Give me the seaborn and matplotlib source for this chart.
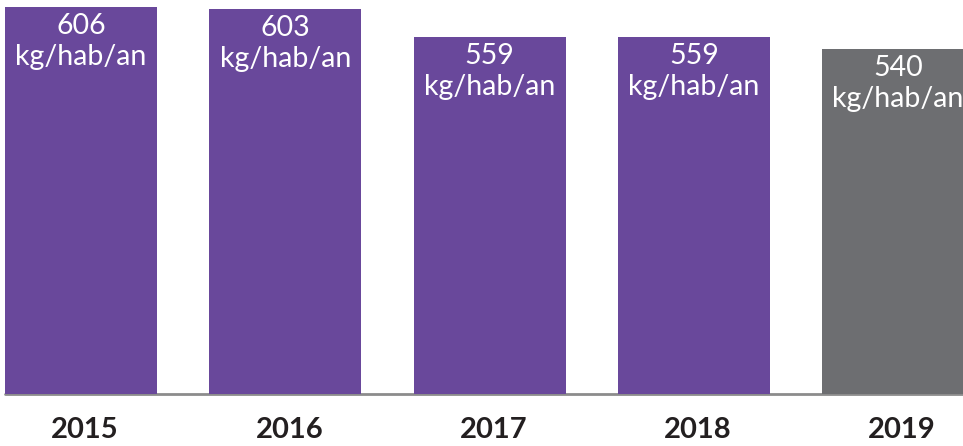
import matplotlib
matplotlib.use("Agg")
import matplotlib.pyplot as plt
import seaborn as sns
import pandas as pd

years = ["2015", "2016", "2017", "2018", "2019"]
values = [606, 603, 559, 559, 540]
unit = "kg/hab/an"
colors = ["#69489b", "#69489b", "#69489b", "#69489b", "#6d6e71"]

sns.set_style("white")
plt.rcParams["font.family"] = ["Lato", "DejaVu Sans"]

df = pd.DataFrame({"year": years, "value": values})

fig = plt.figure(figsize=(9.63, 4.46), dpi=100)
ax = fig.add_axes([0, 0, 1, 1])

ax.axhline(0, xmin=(-0.372 + 0.397) / (4.318 + 0.397), color="#8c8c8c", lw=2, zorder=0)
sns.barplot(data=df, x="year", y="value", hue="year", palette=colors,
            legend=False, width=0.744, saturation=1, linewidth=0, ax=ax, zorder=2)

ax.set_xlim(-0.397, 4.318)
ax.set_ylim(-81.6, 617.0)
ax.axis("off")

for i, (y, v) in enumerate(zip(years, values)):
    ax.annotate(str(v), (i, v), xytext=(0, -27), textcoords="offset pixels",
                ha="center", va="baseline", color="white", fontsize=20.5, zorder=3)
    ax.annotate(unit, (i, v), xytext=(0, -58), textcoords="offset pixels",
                ha="center", va="baseline", color="white", fontsize=20.5, zorder=3)
    ax.text(i + 0.02, -56.5, y, ha="center", va="center", fontsize=21,
            fontweight="bold", color="#231f20")

fig.savefig("out.png", dpi=100)
